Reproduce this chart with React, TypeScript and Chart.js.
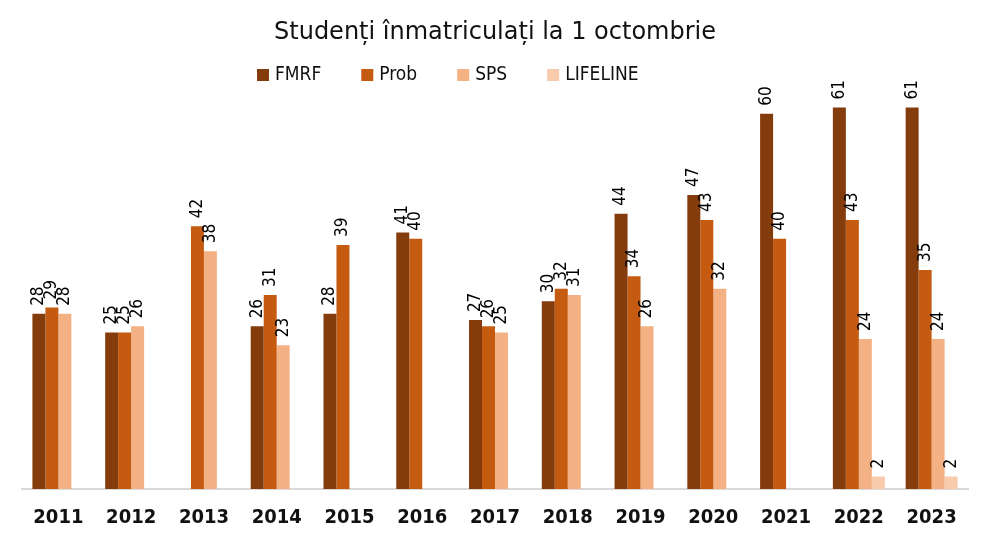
import React, { useEffect, useRef } from "react";
import { Chart, registerables } from "chart.js";

Chart.register(...registerables);

const years = ["2011", "2012", "2013", "2014", "2015", "2016", "2017", "2018", "2019", "2020", "2021", "2022", "2023"];
const fmrf = [28, 25, null, 26, 28, 41, 27, 30, 44, 47, 60, 61, 61];
const prob = [29, 25, 42, 31, 39, 40, 26, 32, 34, 43, 40, 43, 35];
const sps = [28, 26, 38, 23, null, null, 25, 31, 26, 32, null, 24, 24];
const lifeline = [null, null, null, null, null, null, null, null, null, null, null, 2, 2];
const seriesNames = ["FMRF", "Prob", "SPS", "LIFELINE"];
const seriesColors = ["#843C0C", "#C55A11", "#F4B183", "#F8CBAD"];
const titleText = "Studenți înmatriculați la 1 octombrie";

const FONT = "'DejaVu Sans Condensed', 'DejaVu Sans', sans-serif";
const TITLE_FONT = "'DejaVu Sans', sans-serif";
const TEXT = "#111111";

const labelPlugin = {
  id: "verticalLabels",
  afterDatasetsDraw(chart: any) {
    const ctx = chart.ctx;
    ctx.save();
    ctx.fillStyle = "#000000";
    ctx.font = `17px ${FONT}`;
    ctx.textAlign = "left";
    ctx.textBaseline = "middle";
    chart.data.datasets.forEach((ds: any, i: number) => {
      const meta = chart.getDatasetMeta(i);
      meta.data.forEach((el: any, j: number) => {
        const v = ds.data[j];
        if (v === null || v === undefined) return;
        ctx.save();
        ctx.translate(el.x, el.y - 8);
        ctx.rotate(-Math.PI / 2);
        ctx.fillText(String(v), 0, 0);
        ctx.restore();
      });
    });
    ctx.restore();
  },
};

const legendPlugin = {
  id: "customLegend",
  afterDraw(chart: any) {
    const ctx = chart.ctx;
    ctx.save();
    ctx.font = `19px ${FONT}`;
    ctx.textBaseline = "middle";
    ctx.textAlign = "left";
    const y = 75;
    let x = 257;
    chart.data.datasets.forEach((ds: any) => {
      ctx.fillStyle = ds.backgroundColor;
      ctx.fillRect(x, y - 6, 12, 12);
      x += 12 + 6;
      ctx.fillStyle = TEXT;
      ctx.fillText(ds.label, x, y);
      x += ctx.measureText(ds.label).width + 40;
    });
    ctx.restore();
  },
};

export default function App() {
  const ref = useRef<HTMLCanvasElement | null>(null);
  useEffect(() => {
    document.body.style.margin = "0";
    const data = [fmrf, prob, sps, lifeline];
    const chart = new Chart(ref.current as HTMLCanvasElement, {
      type: "bar",
      data: {
        labels: years,
        datasets: seriesNames.map((name, i) => ({
          label: name,
          data: data[i],
          backgroundColor: seriesColors[i],
          borderWidth: 0,
          barPercentage: 1,
          categoryPercentage: 0.714,
        })),
      },
      options: {
        animation: false,
        responsive: false,
        maintainAspectRatio: false,
        layout: { padding: { left: 22, right: 18, top: 0, bottom: 15 } },
        plugins: {
          title: {
            display: true,
            text: titleText,
            color: TEXT,
            font: { family: TITLE_FONT, size: 24, weight: "normal" },
            padding: { top: 18, bottom: 50 },
          },
          legend: { display: false },
          tooltip: { enabled: false },
        },
        scales: {
          x: {
            grid: { display: false },
            border: { display: true, color: "#D9D9D9", width: 2 },
            ticks: {
              color: TEXT,
              font: { family: FONT, size: 20, weight: "bold" },
              padding: 9,
              maxRotation: 0,
            },
          },
          y: {
            display: false,
            min: 0,
            max: 62.7,
          },
        },
      },
      plugins: [labelPlugin, legendPlugin],
    });
    return () => chart.destroy();
  }, []);
  return (
    <div style={{ position: "absolute", left: 0, top: 0, width: 986, height: 554, background: "#fff" }}>
      <canvas ref={ref} width={986} height={554} style={{ width: 986, height: 554 }} />
    </div>
  );
}
